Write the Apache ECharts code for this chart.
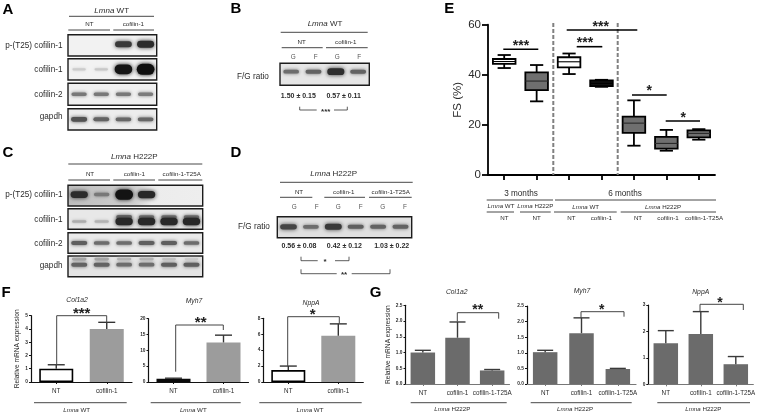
<!DOCTYPE html>
<html>
<head>
<meta charset="utf-8">
<style>html,body{margin:0;padding:0;background:#fff}#c{width:763px;height:414px;filter:blur(0.35px)}</style>
<script src="https://cdn.jsdelivr.net/npm/echarts@6/dist/echarts.min.js"></script>
</head>
<body>
<div id="c"></div>
<script>
// ---------- DATA ----------
// Panel A: band intensity per lane
const aPhospho = [0, 0, 0.8, 0.86];
const aCofilin1 = [0.1, 0.12, 0.97, 1];
const aCofilin2 = [0.5, 0.5, 0.5, 0.48];
const aGapdh = [0.68, 0.6, 0.58, 0.58];
// Panel B
const bActin = [0.55, 0.6, 0.85, 0.6];
// Panel C
const cPhospho = [0.86, 0.5, 0.98, 0.88, 0, 0];
const cCofilin1 = [0.25, 0.22, 0.88, 0.88, 0.88, 0.88];
const cCofilin1Upper = [0, 0, 0.55, 0.5, 0.5, 0.5];
const cCofilin2 = [0.62, 0.55, 0.55, 0.62, 0.62, 0.55];
const cGapdh = [0.6, 0.6, 0.55, 0.55, 0.62, 0.62];
const cGapdhUpper = [0.28, 0.28, 0.22, 0.22, 0.15, 0.1];
// Panel D
const dActin = [0.75, 0.55, 0.8, 0.62, 0.6, 0.6];
// Panel E
const eCategories = ['3m WT NT', '3m H222P NT', '6m WT NT', '6m WT cofilin-1', '6m H222P NT', '6m H222P cofilin-1', '6m H222P cofilin-1-T25A'];
const eLow = [42.7, 29.4, 40.3, 35.2, 11.7, 9.7, 14.1];
const eQ1 = [44.4, 33.9, 43, 35.5, 16.8, 10.5, 15];
const eMedian = [45.3, 37.5, 45.2, 36.6, 20.7, 12.6, 16.6];
const eQ3 = [46.3, 41, 47, 37.8, 23.3, 15.2, 17.8];
const eHigh = [47.9, 43.9, 48.5, 38, 29.8, 18, 18.3];
// Panel F
const fCategories = ['NT', 'cofilin-1'];
const fCol1a2 = [1.0, 4.0], fCol1a2Top = [1.3, 4.5];
const fMyh7 = [1.0, 12.5], fMyh7Top = [1.2, 14.8];
const fNppA = [1.5, 5.8], fNppATop = [2.0, 7.3];
// Panel G
const gCategories = ['NT', 'cofilin-1', 'cofilin-1-T25A'];
const gCol1a2 = [1.0, 1.47, 0.43], gCol1a2Top = [1.07, 1.97, 0.46];
const gMyh7 = [1.02, 1.63, 0.48], gMyh7Top = [1.08, 2.12, 0.5];
const gNppA = [1.55, 1.9, 0.76], gNppATop = [2.03, 2.75, 1.05];

// ---------- HELPERS ----------
const FF = '"Liberation Sans", Arial, sans-serif';
const INK = '#2b2b2b';
const grids = [], xAxes = [], yAxes = [], series = [], gfx = [];

function text(x, y, s, size, o) {
  o = o || {};
  const style = { text: s, fontFamily: FF, fontSize: size, fill: o.fill || INK, fontWeight: o.weight || 'normal',
    fontStyle: o.style || 'normal', align: o.align || 'center', verticalAlign: 'middle' };
  if (s.indexOf('{i|') >= 0) style.rich = { i: { fontStyle: 'italic', fontFamily: FF, fontSize: size, fill: o.fill || INK } };
  gfx.push({ type: 'text', x: x, y: y, z: 100, silent: true, style: style });
}
function line(pts, w, c, dash) {
  const style = { stroke: c || '#333', lineWidth: w || 1, fill: null };
  if (dash) style.lineDash = dash;
  gfx.push({ type: 'polyline', z: 100, silent: true, shape: { points: pts }, style: style });
}
function star(x, y, s, size) { text(x, y + size * 0.24, s, size, { weight: 'bold', fill: '#222' }); }

function addGrid(g, x, y) {
  const i = grids.length;
  grids.push(Object.assign({ containLabel: false }, g));
  xAxes.push(Object.assign({ gridIndex: i }, x));
  yAxes.push(Object.assign({ gridIndex: i }, y));
  return i;
}

function bandColor(v) { const g = Math.round(225 - 210 * v); return 'rgb(' + g + ',' + g + ',' + g + ')'; }

function bandSeries(i, lanes, yPos) {
  series.push({
    type: 'custom', xAxisIndex: i, yAxisIndex: i, silent: true,
    data: lanes.map((v, k) => [k, v]),
    renderItem: function (p, api) {
      const v = api.value(1);
      if (v <= 0) return null;
      const c = api.coord([api.value(0), yPos]);
      const bw = api.size([1, 0])[0];
      const w = bw * (0.58 + 0.22 * v), h = 1.8 + 3.2 * v + 6 * Math.pow(v, 6);
      const col = bandColor(v);
      return { type: 'rect', shape: { x: c[0] - w / 2, y: c[1] - h / 2, width: w, height: h, r: h / 2 },
        style: { fill: col, shadowColor: col, shadowBlur: 2.5 + 2 * v } };
    }
  });
}
function blot(left, top, width, height, lanes, bg, yPos, upper, upperY) {
  const i = addGrid(
    { show: true, left: left, top: top, width: width, height: height, backgroundColor: bg || '#f1f1f1', borderColor: '#1c1c1c', borderWidth: 1.4 },
    { type: 'category', show: false, data: lanes.map((_, k) => k) },
    { type: 'value', show: false, min: 0, max: 1 });
  if (upper) bandSeries(i, upper, upperY);
  bandSeries(i, lanes, yPos);
}

function boxRender(p, api) {
  const k = api.value(0);
  const s = p.dataIndex;
  const cx = api.coord([k, 0])[0];
  const y = n => api.coord([k, api.value(n)])[1];
  const low = y(1), q1 = y(2), med = y(3), q3 = y(4), high = y(5);
  const hb = 11.3, hc = 6.6;
  const fills = ['#ffffff', '#6f6f6f', '#ffffff', '#111111', '#6f6f6f', '#6f6f6f', '#6f6f6f'];
  const st = { stroke: '#000', lineWidth: 1.8, fill: null };
  const L = (x1, y1, x2, y2, sty) => ({ type: 'line', shape: { x1, y1, x2, y2 }, style: sty || st });
  return { type: 'group', children: [
    L(cx, high, cx, q3), L(cx, q1, cx, low),
    L(cx - hc, high, cx + hc, high), L(cx - hc, low, cx + hc, low),
    { type: 'rect', shape: { x: cx - hb, y: q3, width: hb * 2, height: q1 - q3 }, style: { fill: fills[s], stroke: '#000', lineWidth: 1.8 } },
    L(cx - hb, med, cx + hb, med, { stroke: fills[s] === '#6f6f6f' ? '#2a2a2a' : '#000', lineWidth: 1.1 })
  ] };
}

function barPanel(g, cats, vals, tops, o) {
  const i = addGrid(g,
    { type: 'category', data: cats,
      axisLine: { show: true, lineStyle: { color: o.xColor || '#111', width: 1.2 } },
      axisTick: { show: true, alignWithLabel: true, interval: 0, length: 2, lineStyle: { color: o.xColor || '#111', width: 1 } },
      axisLabel: { interval: 0, hideOverlap: false, fontFamily: FF, fontSize: 6.3, color: INK, margin: 6 } },
    { type: 'value', min: 0, max: o.max, interval: o.interval,
      name: o.name || '', nameLocation: 'middle', nameGap: o.nameGap || 11, nameRotate: 90,
      nameTextStyle: { fontFamily: FF, fontSize: 6.6, color: INK },
      splitLine: { show: false },
      axisLine: { show: true, lineStyle: { color: '#111', width: 1.2 } },
      axisTick: { show: true, length: 2, lineStyle: { color: '#111', width: 1 } },
      axisLabel: { fontFamily: FF, fontSize: 4.8, color: INK, fontWeight: 'bold', margin: 3,
        formatter: o.decimals ? (v => v.toFixed(o.decimals)) : (v => String(v)) } });
  series.push({ type: 'bar', xAxisIndex: i, yAxisIndex: i, barWidth: o.barWidth, silent: true,
    data: vals.map((v, k) => ({ value: v, itemStyle: o.styles[k] })) });
  series.push({ type: 'custom', xAxisIndex: i, yAxisIndex: i, silent: true, z: 3,
    data: vals.map((v, k) => [k, v, tops[k]]),
    renderItem: function (p, api) {
      const a = api.coord([api.value(0), api.value(1)]);
      const b = api.coord([api.value(0), api.value(2)]);
      const sty = { stroke: o.errColor || '#333', lineWidth: 1.4, fill: null };
      return { type: 'group', children: [
        { type: 'line', shape: { x1: a[0], y1: a[1], x2: b[0], y2: b[1] }, style: sty },
        { type: 'line', shape: { x1: b[0] - o.cap, y1: b[1], x2: b[0] + o.cap, y2: b[1] }, style: sty }
      ] };
    } });
}

// ---------- BLOTS ----------
blot(68, 34.7, 88.7, 21.3, aPhospho, '#f2f2f2', 0.55);
blot(68, 58.7, 88.7, 21.3, aCofilin1, '#f2f2f2', 0.5);
blot(68, 83.3, 88.7, 22, aCofilin2, '#f0f0f0', 0.5);
blot(68, 108.7, 88.7, 21.3, aGapdh, '#ededed', 0.5);
blot(280, 63.3, 89.3, 22, bActin, '#e6e6e6', 0.62);
const cBg = { type: 'linear', x: 0, y: 0, x2: 1, y2: 0, colorStops: [{ offset: 0, color: '#bdbdbd' }, { offset: 0.5, color: '#d0d0d0' }, { offset: 0.62, color: '#ececec' }, { offset: 1, color: '#eeeeee' }] };
blot(68, 185.3, 134.7, 20.7, cPhospho, cBg, 0.55);
blot(68, 208.7, 134.7, 20.6, cCofilin1, '#e8e8e8', 0.38, cCofilin1Upper, 0.6);
blot(68, 232.7, 134.7, 20.6, cCofilin2, '#eaeaea', 0.5);
blot(68, 256, 134.7, 20.7, cGapdh, '#e4e4e4', 0.58, cGapdhUpper, 0.85);
blot(277.3, 216.7, 134.4, 21, dActin, '#e0e0e0', 0.52);

// ---------- PANEL E ----------
const eI = addGrid({ left: 488, top: 24.7, width: 227, height: 150.3 },
  { type: 'category', data: eCategories,
    axisLine: { show: true, lineStyle: { color: '#000', width: 1.8 } },
    axisTick: { show: true, alignWithLabel: true, interval: 0, length: 5, lineStyle: { color: '#000', width: 1.8 } },
    axisLabel: { show: false, interval: 0 } },
  { type: 'value', min: 0, max: 60, interval: 20, name: 'FS (%)', nameLocation: 'middle', nameGap: 24, nameRotate: 90,
    nameTextStyle: { fontFamily: FF, fontSize: 11.5, color: INK },
    splitLine: { show: false },
    axisLine: { show: true, lineStyle: { color: '#000', width: 1.8 } },
    axisTick: { show: true, length: 6, lineStyle: { color: '#000', width: 1.8 } },
    axisLabel: { fontFamily: FF, fontSize: 11.5, color: INK, margin: 7 } });
series.push({ type: 'custom', xAxisIndex: eI, yAxisIndex: eI, silent: true, renderItem: boxRender,
  data: eCategories.map((c, k) => [k, eLow[k], eQ1[k], eMedian[k], eQ3[k], eHigh[k]]) });

// ---------- PANELS F & G ----------
const white = { color: '#fff', borderColor: '#000', borderWidth: 1.6 };
const lightGrey = { color: '#9c9c9c' };
const black = { color: '#0a0a0a' };
const dark = { color: '#6b6b6b' };
barPanel({ left: 31, top: 315.7, width: 101, height: 66.3 }, fCategories, fCol1a2, fCol1a2Top,
  { max: 5, interval: 1, barWidth: 34, cap: 8.5, styles: [white, lightGrey], name: 'Relative mRNA expression', nameGap: 10 });
barPanel({ left: 148.5, top: 318.7, width: 100, height: 63.3 }, fCategories, fMyh7, fMyh7Top,
  { max: 20, interval: 5, barWidth: 34, cap: 8.5, styles: [black, lightGrey] });
barPanel({ left: 263.3, top: 318.3, width: 100, height: 63.7 }, fCategories, fNppA, fNppATop,
  { max: 8, interval: 2, barWidth: 34, cap: 8.5, styles: [white, lightGrey] });
const gOpts = { barWidth: 24.5, cap: 8, styles: [dark, dark, dark], errColor: '#3a3a3a', xColor: '#777' };
barPanel({ left: 405.5, top: 305.3, width: 104, height: 78.7 }, gCategories, gCol1a2, gCol1a2Top,
  Object.assign({ max: 2.5, interval: 0.5, decimals: 1, name: 'Relative mRNA expression', nameGap: 12 }, gOpts));
barPanel({ left: 527, top: 306, width: 109, height: 78 }, gCategories, gMyh7, gMyh7Top,
  Object.assign({ max: 2.5, interval: 0.5, decimals: 1 }, gOpts));
barPanel({ left: 648.3, top: 305, width: 105, height: 79.3 }, gCategories, gNppA, gNppATop,
  Object.assign({ max: 3, interval: 1 }, gOpts));

// ---------- ANNOTATIONS ----------
[['A', 8, 9.5], ['B', 236, 9], ['C', 8, 152.7], ['D', 236, 152.7], ['E', 449.3, 8.7], ['F', 6, 292.7], ['G', 375.7, 292.7]]
  .forEach(l => text(l[1], l[2], l[0], 15, { weight: 'bold', fill: '#000' }));

// A headers
text(111.7, 10.5, '{i|Lmna} WT', 8); line([[69, 16.3], [154, 16.3]], 0.9);
text(89.3, 24.3, 'NT', 6.2); text(133.3, 24.3, 'cofilin-1', 6.2);
line([[68.3, 30], [110, 30]], 0.9); line([[113.3, 30], [154, 30]], 0.9);
[['p-(T25) cofilin-1', 46], ['cofilin-1', 70], ['cofilin-2', 94.3], ['gapdh', 117]].forEach(r => text(62.5, r[1], r[0], 8.2, { align: 'right' }));

// B
text(325, 24, '{i|Lmna} WT', 8); line([[280.7, 32.3], [367.7, 32.3]], 0.9);
text(301.7, 42.3, 'NT', 6.2); text(345.7, 42.3, 'cofilin-1', 6.2);
line([[281.7, 47.7], [322.7, 47.7]], 0.9); line([[326, 47.7], [367.7, 47.7]], 0.9);
[[293.3, 'G'], [315.7, 'F'], [337.3, 'G'], [359.3, 'F']].forEach(r => text(r[0], 57.3, r[1], 6.4, { fill: '#555' }));
text(253, 76.7, 'F/G ratio', 8.2);
text(298.3, 96, '1.50 ± 0.15', 7, { weight: 'bold' }); text(343.7, 96, '0.57 ± 0.11', 7, { weight: 'bold' });
line([[299.7, 106.7], [299.7, 110], [316.7, 110]], 0.8); line([[334, 110], [347.3, 110], [347.3, 106.7]], 0.8);
text(325.7, 111.5, '***', 8, { weight: 'bold' });

// C
text(134.3, 156.7, '{i|Lmna} H222P', 8); line([[68.3, 164], [202.3, 164]], 0.9);
text(90, 174.7, 'NT', 6.2); text(134.3, 174.7, 'cofilin-1', 6.2); text(181.7, 174.7, 'cofilin-1-T25A', 6.2);
line([[68.3, 180], [110, 180]], 0.9); line([[113.3, 180], [155, 180]], 0.9); line([[158.3, 180], [202.3, 180]], 0.9);
[['p-(T25) cofilin-1', 195], ['cofilin-1', 219.3], ['cofilin-2', 243.3], ['gapdh', 266]].forEach(r => text(62.5, r[1], r[0], 8.2, { align: 'right' }));

// D
text(333.7, 173.3, '{i|Lmna} H222P', 8); line([[280, 182.3], [412.7, 182.3]], 0.9);
text(299, 192, 'NT', 6.2); text(343.7, 192, 'cofilin-1', 6.2); text(390.7, 192, 'cofilin-1-T25A', 6.2);
line([[280, 197.3], [312.3, 197.3]], 0.9); line([[324.3, 197.3], [365, 197.3]], 0.9); line([[369, 197.3], [411.7, 197.3]], 0.9);
[[294.3, 'G'], [316.7, 'F'], [338.3, 'G'], [360.7, 'F'], [382.7, 'G'], [405, 'F']].forEach(r => text(r[0], 207.3, r[1], 6.4, { fill: '#555' }));
text(254, 226.7, 'F/G ratio', 8.2);
text(299, 245.7, '0.56 ± 0.08', 7, { weight: 'bold' }); text(344.3, 245.7, '0.42 ± 0.12', 7, { weight: 'bold' }); text(391.7, 245.7, '1.03 ± 0.22', 7, { weight: 'bold' });
line([[301, 256.7], [301, 260.7], [317.7, 260.7]], 0.8); line([[335, 260.7], [349, 260.7], [349, 256.7]], 0.8);
text(325, 262, '*', 8, { weight: 'bold' });
line([[301, 269.3], [301, 273.7], [336.7, 273.7]], 0.8); line([[351.7, 273.7], [390, 273.7], [390, 269.3]], 0.8);
text(344, 275, '**', 8, { weight: 'bold' });

// E annotations
line([[553.3, 23], [553.3, 175]], 2, '#808080', [4, 2]);
line([[617.7, 23], [617.7, 175]], 2, '#808080', [4, 2]);
line([[503.3, 49.3], [538.3, 49.3]], 1.6, '#000'); star(521, 43, '***', 14);
line([[566.7, 30], [637.3, 30]], 1.6, '#000'); star(600.7, 24, '***', 14);
line([[576.7, 46.7], [602.3, 46.7]], 1.6, '#000'); star(585, 40, '***', 14);
line([[632, 95], [666.7, 95]], 1.6, '#000'); star(649.3, 88, '*', 14);
line([[665.7, 121], [700, 121]], 1.6, '#000'); star(683.3, 115, '*', 14);
text(521, 193.3, '3 months', 8.2); text(625, 193.3, '6 months', 8.2);
line([[486.7, 200], [553, 200]], 0.9); line([[555, 200], [716, 200]], 0.9);
text(501, 206.7, '{i|Lmna} WT', 6.2); text(535.3, 206.7, '{i|Lmna} H222P', 6.2);
text(585.7, 207, '{i|Lmna} WT', 6.2); text(663, 207, '{i|Lmna} H222P', 6.2);
line([[486.7, 212], [514, 212]], 0.9); line([[520, 212], [550.7, 212]], 0.9); line([[554, 212], [616.7, 212]], 0.9); line([[620.7, 212], [716, 212]], 0.9);
[[504.3, 'NT'], [536.7, 'NT'], [571.3, 'NT'], [601.3, 'cofilin-1'], [638, 'NT'], [668, 'cofilin-1'], [704, 'cofilin-1-T25A']]
  .forEach(r => text(r[0], 218.3, r[1], 6.2));

// F annotations
text(77, 300, 'Col1a2', 6.8, { style: 'italic' }); text(194, 301, 'Myh7', 6.8, { style: 'italic' }); text(311, 302.7, 'NppA', 6.8, { style: 'italic' });
const BR = '#444';
line([[56.7, 365], [56.7, 315.7], [106.7, 315.7], [106.7, 322.7]], 1, BR); star(81.7, 310, '***', 15);
line([[175.7, 371.7], [175.7, 325], [223.3, 325], [223.3, 330]], 1, BR); star(200.7, 319, '**', 15);
line([[287.7, 366], [287.7, 316.7], [339.3, 316.7], [339.3, 323.3]], 1, BR); star(312.7, 311.7, '*', 15);
line([[34, 402.7], [126.7, 402.7]], 0.9); text(76.7, 410, '{i|Lmna} WT', 6.2);
line([[150.7, 402.7], [240.7, 402.7]], 0.9); text(193.3, 410, '{i|Lmna} WT', 6.2);
line([[259.3, 402.7], [361.7, 402.7]], 0.9); text(310, 410, '{i|Lmna} WT', 6.2);

// G annotations
text(456.7, 292.3, 'Col1a2', 6.8, { style: 'italic' }); text(582, 291.3, 'Myh7', 6.8, { style: 'italic' }); text(700.7, 292, 'NppA', 6.8, { style: 'italic' });
line([[457.3, 321.5], [457.3, 312.7], [498.7, 312.7], [498.7, 318.7]], 1, BR); star(477.7, 307, '**', 14);
line([[581, 318.3], [581, 311.7], [624, 311.7], [624, 316.7]], 1, BR); star(601.7, 307, '*', 14);
line([[700, 311], [700, 304.3], [743.3, 304.3], [743.3, 310]], 1, BR); star(720, 300, '*', 14);
line([[410.7, 402.7], [506.7, 402.7]], 0.9); text(452.3, 409.3, '{i|Lmna} H222P', 6.2);
line([[530.7, 402.7], [631.7, 402.7]], 0.9); text(575, 409.3, '{i|Lmna} H222P', 6.2);
line([[657.3, 402.7], [750, 402.7]], 0.9); text(703.3, 409.3, '{i|Lmna} H222P', 6.2);

// ---------- CHART ----------
const chart = echarts.init(document.getElementById('c'), null, { width: 763, height: 414 });
chart.setOption({
  animation: false, backgroundColor: '#fff', tooltip: { show: false }, legend: { show: false },
  grid: grids, xAxis: xAxes, yAxis: yAxes, series: series,
  graphic: { elements: gfx }
});
</script>
</body>
</html>
